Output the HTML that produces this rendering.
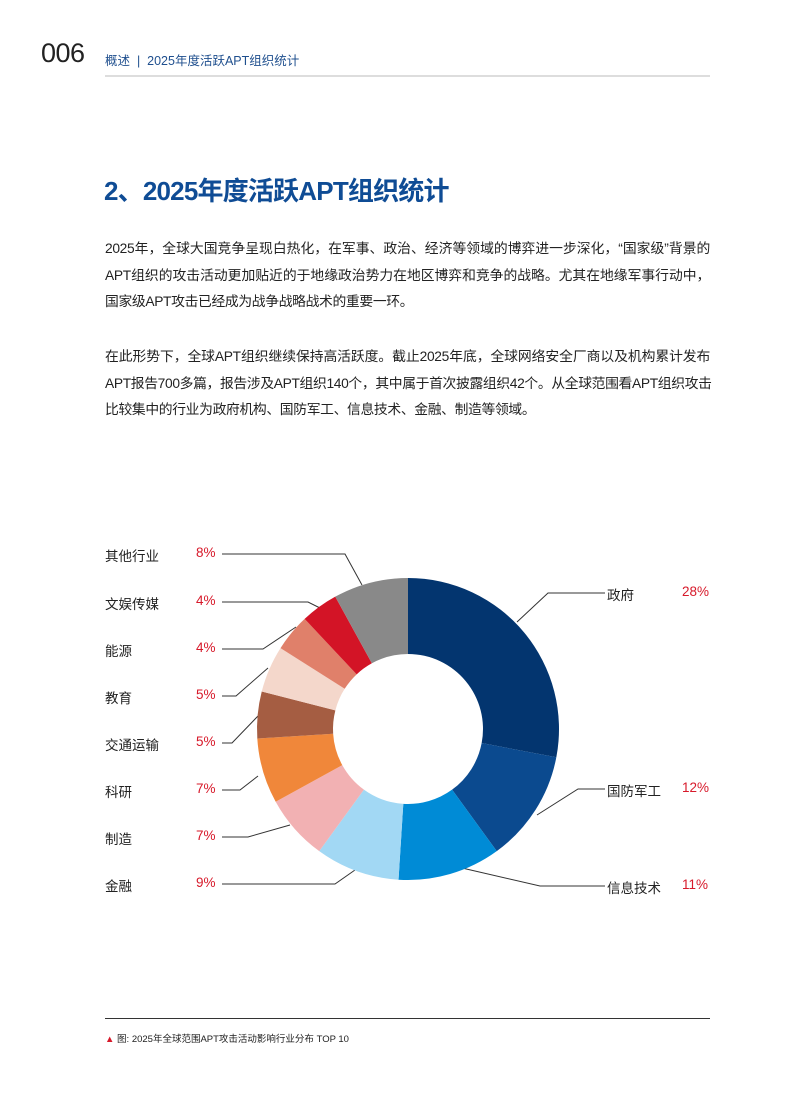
<!DOCTYPE html>
<html><head><meta charset="utf-8">
<style>
body{margin:0;background:#fff;}
#p{position:relative;width:805px;height:1100px;overflow:hidden;font-family:"Liberation Sans","Noto Sans CJK SC",sans-serif;color:#222;}
.a{position:absolute;white-space:nowrap;}
.para{position:absolute;left:105px;width:605px;font-size:13.8px;line-height:26.5px;text-align:justify;text-align-last:justify;color:#222;letter-spacing:-0.35px;}
.para span{display:block;white-space:nowrap;}
.para span.l{text-align-last:left;}
.lab{position:absolute;font-size:13.5px;color:#222;}
.pct{position:absolute;font-size:13.5px;color:#d7192a;}
</style></head><body><div id="p">
<div class="a" style="left:41px;top:38px;font-size:27px;color:#222;font-weight:300;letter-spacing:-0.5px;">006</div>
<div class="a" style="left:105px;top:50px;font-size:12.5px;color:#1f4f8e;">概述 &nbsp;|&nbsp; 2025年度活跃APT组织统计</div>
<div class="a" style="left:105px;top:75px;width:605px;height:2px;background:#ddd;"></div>
<div class="a" style="left:104px;top:171px;font-size:26px;font-weight:bold;color:#0f4c95;letter-spacing:-0.8px;">2、2025年度活跃APT组织统计</div>
<div class="para" style="top:236px;"><span>2025年，全球大国竞争呈现白热化，在军事、政治、经济等领域的博弈进一步深化，“国家级”背景的</span><span>APT组织的攻击活动更加贴近的于地缘政治势力在地区博弈和竞争的战略。尤其在地缘军事行动中，</span><span class="l">国家级APT攻击已经成为战争战略战术的重要一环。</span></div>
<div class="para" style="top:344px;"><span>在此形势下，全球APT组织继续保持高活跃度。截止2025年底，全球网络安全厂商以及机构累计发布</span><span>APT报告700多篇，报告涉及APT组织140个，其中属于首次披露组织42个。从全球范围看APT组织攻击</span><span class="l">比较集中的行业为政府机构、国防军工、信息技术、金融、制造等领域。</span></div>
<svg class="a" style="left:0;top:0" width="805" height="1100" id="s">
<g fill="none" stroke="#333" stroke-width="1">
<polyline points="222,554 345,554 362,585"/>
<polyline points="222,602 308,602 320,608"/>
<polyline points="222,649 263,649 296,627"/>
<polyline points="222,696 236,696 268,668"/>
<polyline points="222,743 232,743 258,716"/>
<polyline points="222,790 240,790 258,776"/>
<polyline points="222,837 248,837 290,825"/>
<polyline points="222,884 335,884 355,870"/>
<polyline points="605,593 548,593 517,622"/>
<polyline points="605,789 578,789 537,815"/>
<polyline points="605,886 540,886 462,868"/>
</g>
</svg>
<div class="lab" style="left:105px;top:545px">其他行业</div><div class="pct" style="left:196px;top:545px">8%</div>
<div class="lab" style="left:105px;top:593px">文娱传媒</div><div class="pct" style="left:196px;top:593px">4%</div>
<div class="lab" style="left:105px;top:640px">能源</div><div class="pct" style="left:196px;top:640px">4%</div>
<div class="lab" style="left:105px;top:687px">教育</div><div class="pct" style="left:196px;top:687px">5%</div>
<div class="lab" style="left:105px;top:734px">交通运输</div><div class="pct" style="left:196px;top:734px">5%</div>
<div class="lab" style="left:105px;top:781px">科研</div><div class="pct" style="left:196px;top:781px">7%</div>
<div class="lab" style="left:105px;top:828px">制造</div><div class="pct" style="left:196px;top:828px">7%</div>
<div class="lab" style="left:105px;top:875px">金融</div><div class="pct" style="left:196px;top:875px">9%</div>
<div class="lab" style="left:607px;top:584px">政府</div><div class="pct" style="left:682px;top:584px">28%</div>
<div class="lab" style="left:607px;top:780px">国防军工</div><div class="pct" style="left:682px;top:780px">12%</div>
<div class="lab" style="left:607px;top:877px">信息技术</div><div class="pct" style="left:682px;top:877px">11%</div>
<div class="a" style="left:105px;top:1018px;width:605px;height:1px;background:#333;"></div>
<div class="a" style="left:105px;top:1031px;font-size:9.5px;color:#222;"><span style="color:#d7192a">▲</span> 图: 2025年全球范围APT攻击活动影响行业分布 TOP 10</div>
</div>
<script>
var d=[[28,"#03356f"],[12,"#0b4a8f"],[11,"#008bd6"],[9,"#a2d8f4"],[7,"#f2b1b3"],[7,"#f0873a"],[5,"#a55d42"],[5,"#f4d7cb"],[4,"#e0806a"],[4,"#d31426"],[8,"#898989"]];
var cx=408,cy=729,R=151,r=75,a=0,s=document.getElementById("s"),h="";
function pt(rad,ang){var t=(ang/100)*2*Math.PI;return [(cx+rad*Math.sin(t)).toFixed(2),(cy-rad*Math.cos(t)).toFixed(2)];}
d.forEach(function(x){var b=a+x[0];var p1=pt(R,a),p2=pt(R,b),p3=pt(r,b),p4=pt(r,a);var lg=x[0]>50?1:0;
h+='<path fill="'+x[1]+'" d="M'+p1+' A'+R+','+R+' 0 '+lg+' 1 '+p2+' L'+p3+' A'+r+','+r+' 0 '+lg+' 0 '+p4+' Z"/>';a=b;});
s.insertAdjacentHTML("beforeend",h);
</script>
</body></html>
